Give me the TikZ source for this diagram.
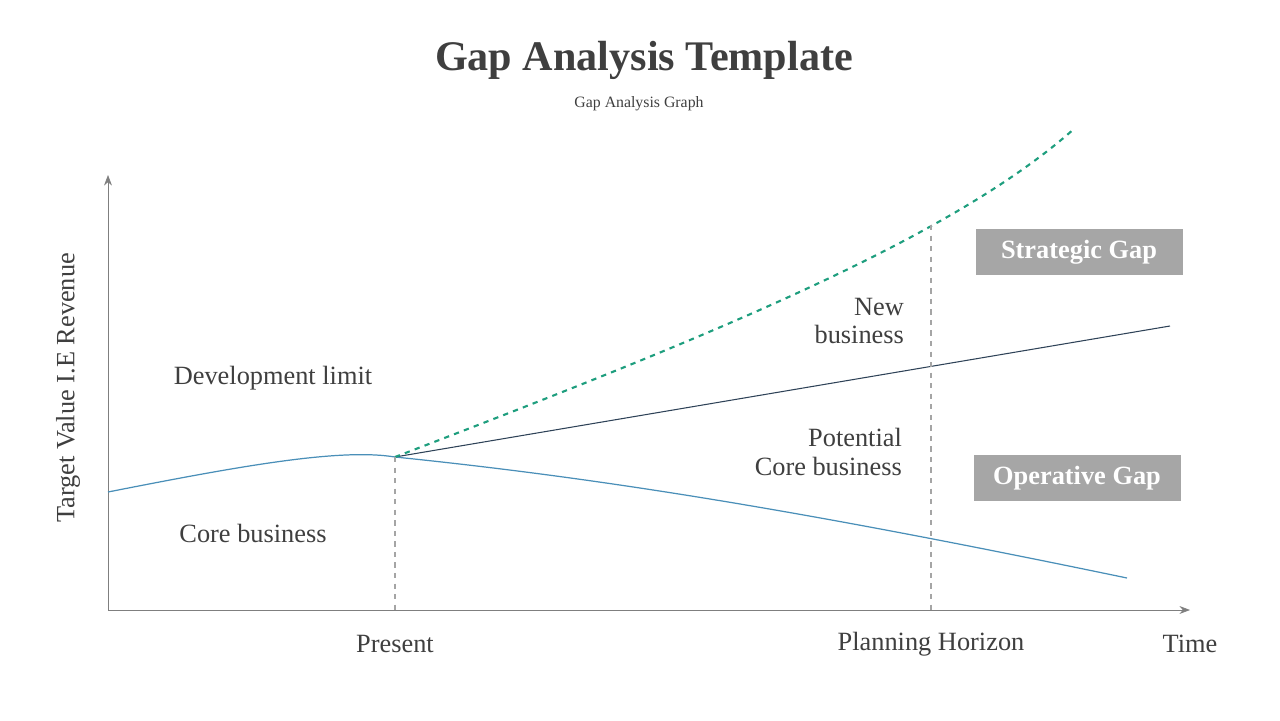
\documentclass[tikz,border=0pt]{standalone}
\usepackage{fontspec}
\setmainfont{Liberation Serif}
\usetikzlibrary{arrows.meta,positioning}
\definecolor{txtgray}{HTML}{3F3F3F}
\definecolor{axisgray}{HTML}{7F7F7F}
\definecolor{coreblue}{HTML}{4A8FB8}
\definecolor{linenavy}{HTML}{2E4257}
\definecolor{gapgreen}{HTML}{1E9E7E}
\definecolor{boxgray}{HTML}{A6A6A6}
\tikzset{lbl/.style={text=txtgray,font=\fontsize{15}{16}\selectfont,inner sep=1pt},
         gapbox/.style={fill=boxgray,text=white,font=\bfseries\fontsize{15}{18}\selectfont,minimum width=4.14cm,minimum height=0.93cm},
         guide/.style={axisgray!70,dashed,line width=0.7pt}}
\begin{document}
\begin{tikzpicture}[x=0.02cm,y=-0.02cm]
\useasboundingbox (0,0) rectangle (1280,720);
\node[text=txtgray,font=\bfseries\fontsize{24}{28}\selectfont] (title) at (644,60) {Gap Analysis Template};
\node[text=txtgray,font=\fontsize{9}{11}\selectfont] (sub) at (639,104) {Gap Analysis Graph};
% axes
\coordinate (o) at (108,610);
\coordinate (ytop) at (108,175);
\coordinate (xend) at (1190,610);
\draw[axisgray,-{Stealth[length=6pt]}] (o) -- (ytop);
\draw[axisgray,-{Stealth[length=6pt]}] (o) -- (xend);
\node[lbl,rotate=90] (ylab) at (68,388) {Target Value I.E Revenue};
% curves
\coordinate (start) at (108,492);
\coordinate (pres) at (395,457);
\coordinate (coreend) at (1127,578);
\coordinate (potend) at (1170,326);
\coordinate (newend) at (1075,128);
\draw[coreblue,line width=0.7pt] (start) .. controls (240,466) and (340,448) .. (pres)
  .. controls (600,478) and (800,510) .. (coreend);
\draw[linenavy,line width=0.6pt] (pres) -- (potend);
\draw[gapgreen,dashed,line width=1.2pt] (pres) .. controls (700,340) and (950,240) .. (newend);
\coordinate (presb) at (395,610);
\coordinate (plant) at (931,225);
\coordinate (planb) at (931,610);
\draw[guide] (pres) -- (presb);
\draw[guide] (plant) -- (planb);
% labels
\node[lbl] (devlim) at (273,378) {Development limit};
\node[lbl] (core) at (253,533) {Core business};
\node[lbl,align=right,anchor=east] (newbiz) at (906,321) {New\\business};
\node[lbl,align=right,anchor=east] (potcore) at (904,452) {Potential\\Core business};
\node[lbl] (present) at (395,644) {Present};
\node[lbl] (horizon) at (931,644) {Planning Horizon};
\node[lbl] (time) at (1190,644) {Time};
\node[gapbox] (strat) at (1079,252) {Strategic Gap};
\node[gapbox] (oper) at (1077,478) {Operative Gap};
\end{tikzpicture}
\end{document}
